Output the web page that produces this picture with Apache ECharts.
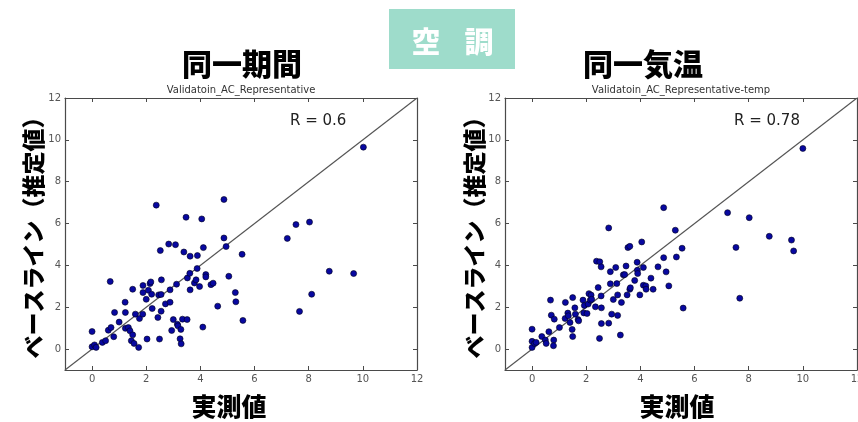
<!DOCTYPE html>
<html>
<head>
<meta charset="utf-8">
<script src="https://cdn.jsdelivr.net/npm/echarts@6/dist/echarts.min.js"></script>
<style>
  html, body { margin: 0; padding: 0; background: #ffffff; }
  #chart { width: 858px; height: 422px; }
</style>
</head>
<body>
<div id="chart"></div>
<script>
// Measured vs. baseline-estimate values, same period model
const periodMeasured = [0, 0, 0.09, 0.15, 0.38, 0.5, 0.6, 0.7, 0.67, 0.8, 0.83, 1.0, 1.22, 1.23, 1.23, 1.34, 1.4, 1.5, 1.5, 1.45, 1.55, 1.6, 1.72, 1.75, 1.87, 1.88, 1.88, 2.0, 2.03, 2.08, 2.14, 2.17, 2.2, 2.22, 2.37, 2.43, 2.46, 2.49, 2.52, 2.55, 2.56, 2.55, 2.71, 2.83, 2.88, 2.88, 2.94, 3.0, 3.08, 3.12, 3.15, 3.17, 3.25, 3.28, 3.29, 3.34, 3.39, 3.47, 3.51, 3.52, 3.61, 3.62, 3.62, 3.78, 3.84, 3.88, 3.89, 3.97, 4.05, 4.11, 4.09, 4.2, 4.2, 4.39, 4.47, 4.64, 4.87, 4.87, 4.95, 5.05, 5.29, 5.31, 5.54, 5.57, 7.21, 7.53, 7.66, 8.03, 8.11, 8.76, 9.66, 10.02];
const periodBaseline = [0.84, 0.11, 0.2, 0.08, 0.32, 0.4, 0.9, 1.03, 3.23, 0.59, 1.75, 1.29, 2.24, 1.75, 0.99, 1.03, 0.87, 2.86, 0.68, 0.4, 0.27, 1.67, 0.08, 1.46, 1.67, 3.04, 2.7, 2.38, 0.48, 2.81, 3.13, 3.21, 2.62, 1.94, 6.88, 1.51, 2.59, 0.48, 4.71, 2.61, 3.31, 1.81, 2.16, 5.02, 2.83, 2.24, 0.89, 1.41, 4.99, 3.1, 1.19, 1.11, 0.49, 0.94, 0.25, 1.43, 4.64, 6.3, 1.41, 3.4, 3.62, 4.44, 2.83, 3.16, 3.31, 3.85, 4.47, 2.99, 6.22, 4.85, 1.05, 3.56, 3.45, 3.08, 3.15, 2.05, 7.15, 5.31, 4.9, 3.48, 2.7, 2.26, 4.53, 1.37, 5.29, 5.95, 1.8, 6.07, 2.62, 3.72, 3.61, 9.65];

// Measured vs. baseline-estimate values, same temperature model
const tempMeasured = [0, 0, 0, 0.09, 0.15, 0.36, 0.49, 0.52, 0.62, 0.68, 0.71, 0.82, 0.8, 0.79, 1.01, 1.22, 1.23, 1.32, 1.34, 1.4, 1.48, 1.5, 1.5, 1.58, 1.6, 1.7, 1.72, 1.88, 1.91, 1.93, 2.03, 2.07, 2.1, 2.15, 2.18, 2.2, 2.34, 2.38, 2.44, 2.5, 2.49, 2.55, 2.55, 2.56, 2.56, 2.83, 2.83, 2.89, 2.89, 2.94, 3.0, 3.09, 3.13, 3.16, 3.16, 3.26, 3.3, 3.37, 3.42, 3.47, 3.51, 3.54, 3.61, 3.61, 3.63, 3.79, 3.88, 3.89, 3.9, 3.98, 4.05, 4.11, 4.11, 4.2, 4.21, 4.39, 4.47, 4.65, 4.86, 4.86, 4.95, 5.05, 5.29, 5.33, 5.54, 5.58, 7.22, 7.53, 7.67, 8.02, 8.76, 9.58, 9.66, 10.0];
const tempBaseline = [0.95, 0.37, 0.08, 0.27, 0.32, 0.6, 0.43, 0.27, 0.83, 2.34, 1.62, 1.43, 0.43, 0.16, 1.03, 1.46, 2.23, 1.72, 1.59, 1.27, 0.94, 2.46, 0.6, 1.97, 1.67, 1.41, 1.35, 2.34, 1.73, 2.08, 1.7, 2.15, 2.65, 2.34, 2.58, 2.38, 2.02, 4.2, 2.94, 4.17, 0.51, 3.93, 2.54, 1.97, 1.22, 5.79, 1.24, 3.7, 3.12, 1.67, 2.37, 3.9, 3.13, 2.59, 1.61, 0.67, 2.23, 3.55, 3.56, 3.97, 2.59, 4.85, 4.91, 2.86, 2.93, 3.28, 4.15, 3.77, 3.61, 2.59, 5.12, 3.9, 3.05, 3.02, 2.86, 3.39, 2.86, 3.93, 6.76, 4.37, 3.69, 3.02, 5.68, 4.4, 4.82, 1.96, 6.52, 4.86, 2.43, 6.28, 5.39, 5.21, 4.69, 9.59];

const tickValues = [0, 2, 4, 6, 8, 10, 12];
const axisRange = [-1, 12];
const panelTitles = ['同一期間', '同一気温'];
const plotTitles = ['Validatoin_AC_Representative', 'Validatoin_AC_Representative-temp'];
const rLabels = ['R = 0.6', 'R = 0.78'];
const headerText = ['空', '調'];
const yAxisTitle = 'ベースライン（推定値）';
const xAxisTitle = '実測値';

const chart = echarts.init(document.getElementById('chart'), null, { renderer: 'canvas' });

const tickFont = 'DejaVu Sans';
const frameColor = '#4a4a4a';
const cjkFont = '"Noto Sans CJK JP"';

function makeAxis(gridIndex, position, showLabels) {
  return {
    type: 'value',
    gridIndex: gridIndex,
    position: position,
    min: axisRange[0],
    max: axisRange[1],
    splitLine: { show: false },
    axisLine: { show: true, onZero: false, lineStyle: { color: frameColor, width: 1.2 } },
    axisTick: { show: true, inside: true, length: 4, customValues: tickValues, lineStyle: { color: frameColor } },
    axisLabel: {
      show: showLabels,
      customValues: tickValues,
      margin: 4,
      color: '#555555',
      fontFamily: tickFont,
      fontSize: 10
    }
  };
}

// Fixed plot frames; labels are allowed to run past the canvas edge
const grids = [
  { left: 65, top: 98, width: 352, height: 272, outerBoundsMode: 'none', containLabel: false },
  { left: 505, top: 98, width: 352, height: 272, outerBoundsMode: 'none', containLabel: false }
];

const xAxes = [
  makeAxis(0, 'bottom', true), makeAxis(0, 'top', false),
  makeAxis(1, 'bottom', true), makeAxis(1, 'top', false)
];
const yAxes = [
  makeAxis(0, 'left', true), makeAxis(0, 'right', false),
  makeAxis(1, 'left', true), makeAxis(1, 'right', false)
];

function pairs(xs, ys) {
  return xs.map((x, i) => [x, ys[i]]);
}

const pointStyle = { color: '#0808a0', borderColor: '#00001a', borderWidth: 0.6, opacity: 1 };

const series = [];
[[periodMeasured, periodBaseline], [tempMeasured, tempBaseline]].forEach((d, g) => {
  // 1:1 reference line across the whole axis range
  series.push({
    type: 'line',
    xAxisIndex: g * 2,
    yAxisIndex: g * 2,
    data: [[axisRange[0], axisRange[0]], [axisRange[1], axisRange[1]]],
    showSymbol: false,
    silent: true,
    lineStyle: { color: '#555555', width: 1.2 },
    z: 1
  });
  series.push({
    type: 'scatter',
    xAxisIndex: g * 2,
    yAxisIndex: g * 2,
    data: pairs(d[0], d[1]),
    symbolSize: 6,
    itemStyle: pointStyle,
    z: 3
  });
});

const centers = [241, 681];
const graphics = [
  { type: 'rect', shape: { x: 389, y: 9, width: 126, height: 60 }, style: { fill: '#9edccb' } },
  { type: 'text', x: 426, y: 42, style: { text: headerText[0], fill: '#ffffff', font: '900 29px ' + cjkFont, align: 'center', verticalAlign: 'middle' } },
  { type: 'text', x: 479, y: 42, style: { text: headerText[1], fill: '#ffffff', font: '900 29px ' + cjkFont, align: 'center', verticalAlign: 'middle' } }
];

[0, 1].forEach(g => {
  graphics.push({
    type: 'text', x: g === 0 ? 242 : 643, y: 64,
    style: { text: panelTitles[g], fill: '#000000', font: '900 30px ' + cjkFont, align: 'center', verticalAlign: 'middle' }
  });
  graphics.push({
    type: 'text', x: centers[g], y: 90,
    style: { text: plotTitles[g], fill: '#333333', font: '10px ' + tickFont, align: 'center', verticalAlign: 'middle' }
  });
  graphics.push({
    type: 'text', x: g === 0 ? 290 : 734, y: 121,
    style: { text: rLabels[g], fill: '#222222', font: '15px ' + tickFont, align: 'left', verticalAlign: 'middle' }
  });
  graphics.push({
    type: 'text', x: g === 0 ? 229 : 677, y: 406,
    style: { text: xAxisTitle, fill: '#000000', font: '900 25px ' + cjkFont, align: 'center', verticalAlign: 'middle' }
  });
  graphics.push({
    type: 'text', x: g === 0 ? 33 : 474, y: 232, rotation: Math.PI / 2,
    style: { text: yAxisTitle, fill: '#000000', font: '900 23px ' + cjkFont, align: 'center', verticalAlign: 'middle' }
  });
});

chart.setOption({
  animation: false,
  backgroundColor: '#ffffff',
  grid: grids,
  xAxis: xAxes,
  yAxis: yAxes,
  series: series,
  graphic: graphics
});
</script>
</body>
</html>
